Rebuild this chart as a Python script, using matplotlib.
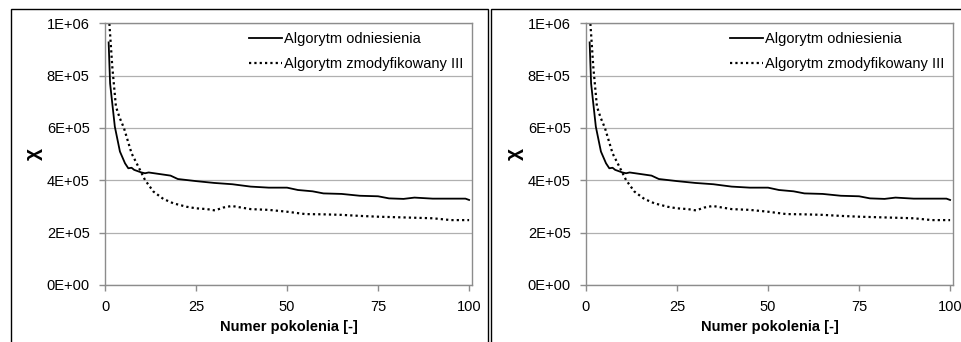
import matplotlib.pyplot as plt
from matplotlib.patches import Rectangle

plt.rcParams['font.family'] = ['Liberation Sans', 'DejaVu Sans']

# generation numbers and objective values
gen_ref = [1, 1.4, 2.7, 4.1, 5.5, 6.4, 7.3, 8, 10, 11, 12, 15, 18, 20, 25, 30, 35, 40,
           45, 50, 53, 57, 60, 65, 70, 75, 78, 82, 85, 90, 95, 99, 100]
chi_ref = [927e3, 770e3, 605e3, 510e3, 465e3, 446e3, 448e3, 440e3, 430e3, 427e3, 430e3,
           424e3, 418e3, 405e3, 397e3, 390e3, 385e3, 376e3, 372e3, 372e3, 363e3, 358e3,
           350e3, 348e3, 341e3, 339e3, 331e3, 329e3, 334e3, 330e3, 330e3, 330e3, 325e3]

gen_mod = [1.0, 1.2, 2, 3, 4, 5.2, 7.3, 9.6, 11, 13.3, 16, 18.8, 22.4, 25, 28, 30.2, 32.5,
           34.8, 40, 45, 50, 55, 60, 65, 70, 75, 80, 85, 90, 95, 100]
chi_mod = [1.08e6, 1.0e6, 834e3, 682e3, 640e3, 600e3, 503e3, 440e3, 401e3, 357e3, 329e3,
           312e3, 299e3, 293e3, 290e3, 285e3, 296e3, 302e3, 290e3, 287e3, 280e3, 271e3,
           270e3, 268e3, 264e3, 261e3, 259e3, 257e3, 255e3, 248e3, 248e3]

labels = ['Algorytm odniesienia', 'Algorytm zmodyfikowany III']
yticks = [0, 2e5, 4e5, 6e5, 8e5, 1e6]
ytick_labels = ['0E+00', '2E+05', '4E+05', '6E+05', '8E+05', '1E+06']
xticks = [0, 25, 50, 75, 100]

W, H = 961, 342
fig = plt.figure(figsize=(W / 100, H / 100), dpi=100)

# panel frames
fig.patches.append(Rectangle((11 / W, -0.1), (488 - 11) / W, 1.1 - 9 / H, transform=fig.transFigure,
                             fill=False, edgecolor='black', lw=1.0))
fig.patches.append(Rectangle((491 / W, -0.1), 0.6, 1.1 - 9 / H, transform=fig.transFigure,
                             fill=False, edgecolor='black', lw=1.0))

grey = '#8c8c8c'
fs = 10.5
for left in (105, 586):
    ax = fig.add_axes([left / W, 57 / H, 367 / W, 261.7 / H])
    ax.plot(gen_ref, chi_ref, color='black', lw=1.3, label=labels[0])
    ax.plot(gen_mod, chi_mod, color='black', lw=1.6, linestyle=(0, (1, 1.4)), label=labels[1])
    ax.set_xlim(0, 100.8)
    ax.set_ylim(0, 1e6)
    ax.set_yticks(yticks)
    ax.set_yticklabels(ytick_labels)
    ax.set_xticks(xticks)
    ax.grid(axis='y', color='#b0b0b0', lw=0.9)
    ax.set_axisbelow(True)
    for s in ax.spines.values():
        s.set_color(grey)
        s.set_linewidth(1.0)
    ax.tick_params(direction='out', length=4, width=1.0, color=grey, labelsize=fs, pad=7)
    ax.tick_params(axis='x', pad=7)
    ax.set_xlabel('Numer pokolenia [-]', fontsize=fs, fontweight='bold', labelpad=4)
    ax.set_ylabel('χ', fontsize=15, fontweight='bold', labelpad=3)
    ax.legend(loc='upper right', frameon=False, fontsize=fs, handlelength=2.3,
              handletextpad=0.1, borderaxespad=0.2, labelspacing=0.75)

fig.savefig('out.png', dpi=100)
